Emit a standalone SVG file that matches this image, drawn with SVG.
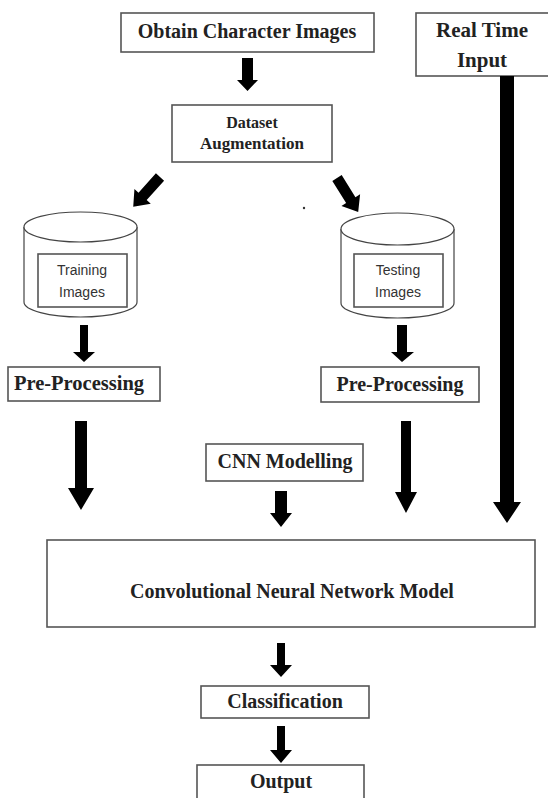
<svg xmlns="http://www.w3.org/2000/svg" width="548" height="798" viewBox="0 0 548 798">
<style>
.box{fill:#fff;stroke:#555;stroke-width:1.6}
.cyl{fill:#fff;stroke:#444;stroke-width:1.2}
.t{font-family:"Liberation Serif","Times New Roman",serif;font-weight:bold;fill:#222;text-anchor:middle}
.s{font-family:"Liberation Sans",Arial,sans-serif;fill:#333;text-anchor:middle;font-size:14px}
.arr{fill:#000}
</style>
<defs>
<path id="diag" d="M-5.5,0 H5.5 V26 H11 L0,40 L-11,26 H-5.5 Z"/>
</defs>
<rect width="548" height="798" fill="#fff"/>
<g id="obtain"><rect class="box" x="121" y="13" width="253" height="39"/><text class="t" x="247" y="38" font-size="20">Obtain Character Images</text></g>
<g id="realtime"><rect class="box" x="416" y="13" width="140" height="63"/><text class="t" x="482" y="37" font-size="21">Real Time</text><text class="t" x="482" y="67" font-size="21">Input</text></g>
<g id="augment"><rect class="box" x="172" y="105" width="160" height="57"/><text class="t" x="252" y="128" font-size="16">Dataset</text><text class="t" x="252" y="149" font-size="17">Augmentation</text></g>
<g id="training"><path class="cyl" d="M24,227 V302 A56.5,15 0 0 0 137,302 V227"/><ellipse class="cyl" cx="80.5" cy="227" rx="56.5" ry="15"/><rect class="box" x="38" y="254" width="89" height="53" stroke-width="1.3"/><text class="s" x="82" y="275">Training</text><text class="s" x="82" y="297">Images</text></g>
<g id="testing"><path class="cyl" d="M341,229 V303 A56.5,15 0 0 0 454,303 V229"/><ellipse class="cyl" cx="397.5" cy="229" rx="56.5" ry="16"/><rect class="box" x="354" y="254" width="89" height="53" stroke-width="1.3"/><text class="s" x="398" y="275">Testing</text><text class="s" x="398" y="297">Images</text></g>
<g id="pre-left"><rect class="box" x="8" y="367" width="152" height="34"/><text class="t" x="79" y="390" font-size="20.5">Pre-Processing</text></g>
<g id="pre-right"><rect class="box" x="321" y="367" width="158" height="35"/><text class="t" x="400" y="391" font-size="20">Pre-Processing</text></g>
<g id="cnn-modelling"><rect class="box" x="206" y="444" width="157" height="37"/><text class="t" x="285" y="468" font-size="20">CNN Modelling</text></g>
<g id="cnn-model"><rect class="box" x="47" y="540" width="488" height="87"/><text class="t" x="292" y="598" font-size="20">Convolutional Neural Network Model</text></g>
<g id="classification"><rect class="box" x="201" y="686" width="168" height="32"/><text class="t" x="285" y="708" font-size="20">Classification</text></g>
<g id="output"><rect class="box" x="197" y="765" width="167" height="40"/><text class="t" x="281" y="788" font-size="20">Output</text></g>
<circle cx="304" cy="208" r="1.2" fill="#333"/>
<g id="connectors" class="arr">
<path d="M242,58 H253 V80 H258 L247.5,91 L237,80 H242 Z"/>
<use href="#diag" transform="translate(160,177) rotate(42)"/>
<use href="#diag" transform="translate(337,178) rotate(-32)"/>
<path d="M80,325 H88 V352 H95 L84,362 L73,352 H80 Z"/>
<path d="M397,325 H407 V352 H414 L402,362 L391,352 H397 Z"/>
<path d="M75,421 H87 V488 H94 L81,510 L68,488 H75 Z"/>
<path d="M401,421 H411 V492 H417 L406,513 L395,492 H401 Z"/>
<path d="M500,76 H514 V502 H521 L507,523 L493,502 H500 Z"/>
<path d="M275,491 H287 V513 H292 L281,527 L270,513 H275 Z"/>
<path d="M277,643 H285 V665 H292 L281,677 L270,665 H277 Z"/>
<path d="M277,726 H285 V750 H292 L281,763 L270,750 H277 Z"/>
</g>
</svg>
